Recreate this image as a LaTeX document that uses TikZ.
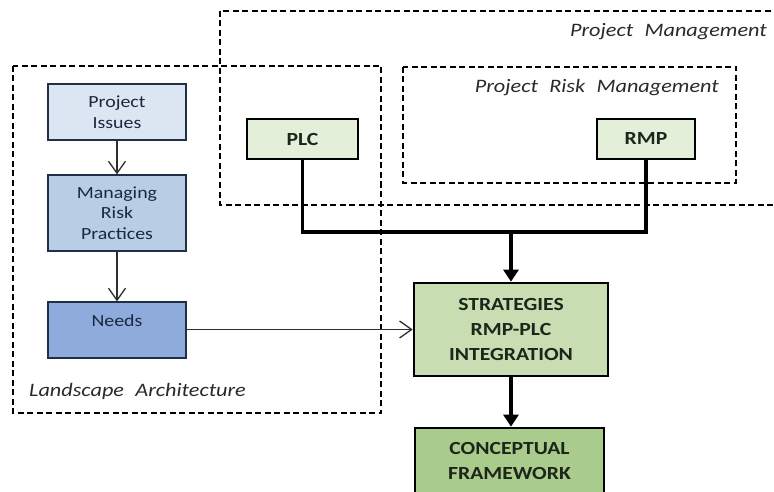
\documentclass[tikz,border=0pt]{standalone}
\usepackage{fontspec}
\setmainfont{Carlito}[FakeStretch=1.17]
\usetikzlibrary{arrows.meta}

\definecolor{issuefill}{HTML}{DCE6F2}
\definecolor{practfill}{HTML}{B9CDE5}
\definecolor{needfill}{HTML}{8EABDC}
\definecolor{bluetext}{HTML}{1A2840}
\definecolor{blueline}{HTML}{1F2F47}
\definecolor{paleg}{HTML}{E4EFD9}
\definecolor{midg}{HTML}{C8DDB2}
\definecolor{deepg}{HTML}{A9CB8C}
\definecolor{greentext}{HTML}{1C261A}
\definecolor{labeltext}{HTML}{2A2A2A}
\definecolor{thinline}{HTML}{2E2E2E}

\tikzset{
  frame/.style={draw=black, line width=1.3pt, dash pattern=on 6pt off 3.5pt},
  framelabel/.style={inner sep=0pt, text=labeltext,
    font=\fontsize{19}{22}\selectfont\itshape},
  bluebox/.style={draw=blueline, line width=1.3pt, fill=#1, text=bluetext,
    minimum width=138pt, align=center,
    font=\fontsize{17}{20.5}\selectfont},
  greenbox/.style={draw=black, line width=2.6pt, fill=#1, text=greentext,
    align=center, font=\fontsize{18.5}{25}\selectfont\bfseries},
  flow/.style={draw=thinline, line width=1.3pt,
    -{Straight Barb[length=12pt,width=17pt,line width=1.3pt]}},
  mainline/.style={draw=black, line width=3.5pt, line join=miter},
  mainarrow/.style={mainline, -{Triangle[length=12pt,width=15pt]}}
}

\begin{document}
\begin{tikzpicture}[x=1pt, y=-1pt]
  \useasboundingbox (0,0) rectangle (774,492);
  \fill[white] (0,0) rectangle (774,492);
  \clip (0,0) rectangle (774,492);

  % dashed domain frames
  \draw[frame] (220,11) rectangle (800,205);
  \draw[frame] (403,67) rectangle (736,183);
  \draw[frame] (13,66) rectangle (381,413);

  \node[framelabel, anchor=base east] (pmlab) at (767,37) {Project\,\, Management};
  \node[framelabel, anchor=base east] (prmlab) at (719,92.5) {Project\,\, Risk\,\, Management};
  \node[framelabel, anchor=base west] (lalab) at (29,396.5) {Landscape\,\, Architecture};

  % landscape architecture chain
  \node[bluebox=issuefill, minimum height=56pt] (iss) at (117,112) {Project\\Issues};
  \node[bluebox=practfill, minimum height=76pt] (prac) at (117,213) {Managing\\Risk\\Practices};
  \node[bluebox=needfill, inner sep=0pt, text height=24pt, text depth=32pt] (need) at (117,330) {Needs};

  % project management nodes
  \node[greenbox=paleg, minimum width=111pt, minimum height=40pt] (plc) at (302.5,139) {PLC};
  \node[greenbox=paleg, minimum width=98pt, minimum height=40pt] (rmp) at (646,139) {RMP};

  \node[greenbox=midg, minimum width=194pt, minimum height=93pt] (strat) at (511,329.5)
    {STRATEGIES\\RMP-PLC\\INTEGRATION};
  \node[greenbox=deepg, minimum width=189pt, minimum height=66pt] (frame) at (509.5,461)
    {CONCEPTUAL\\FRAMEWORK};

  % connectors
  \draw[flow] (iss) -- (prac);
  \draw[flow] (prac) -- (need);
  \draw[flow] (need.east |- strat.west) -- (strat.west);

  \coordinate (join) at (511,232);
  \draw[mainline] (plc.south) |- (join) -| (rmp.south);
  \draw[mainarrow] (join) -- (strat.north);
  \draw[mainarrow] (strat.south) -- (strat.south |- frame.north);
\end{tikzpicture}
\end{document}
